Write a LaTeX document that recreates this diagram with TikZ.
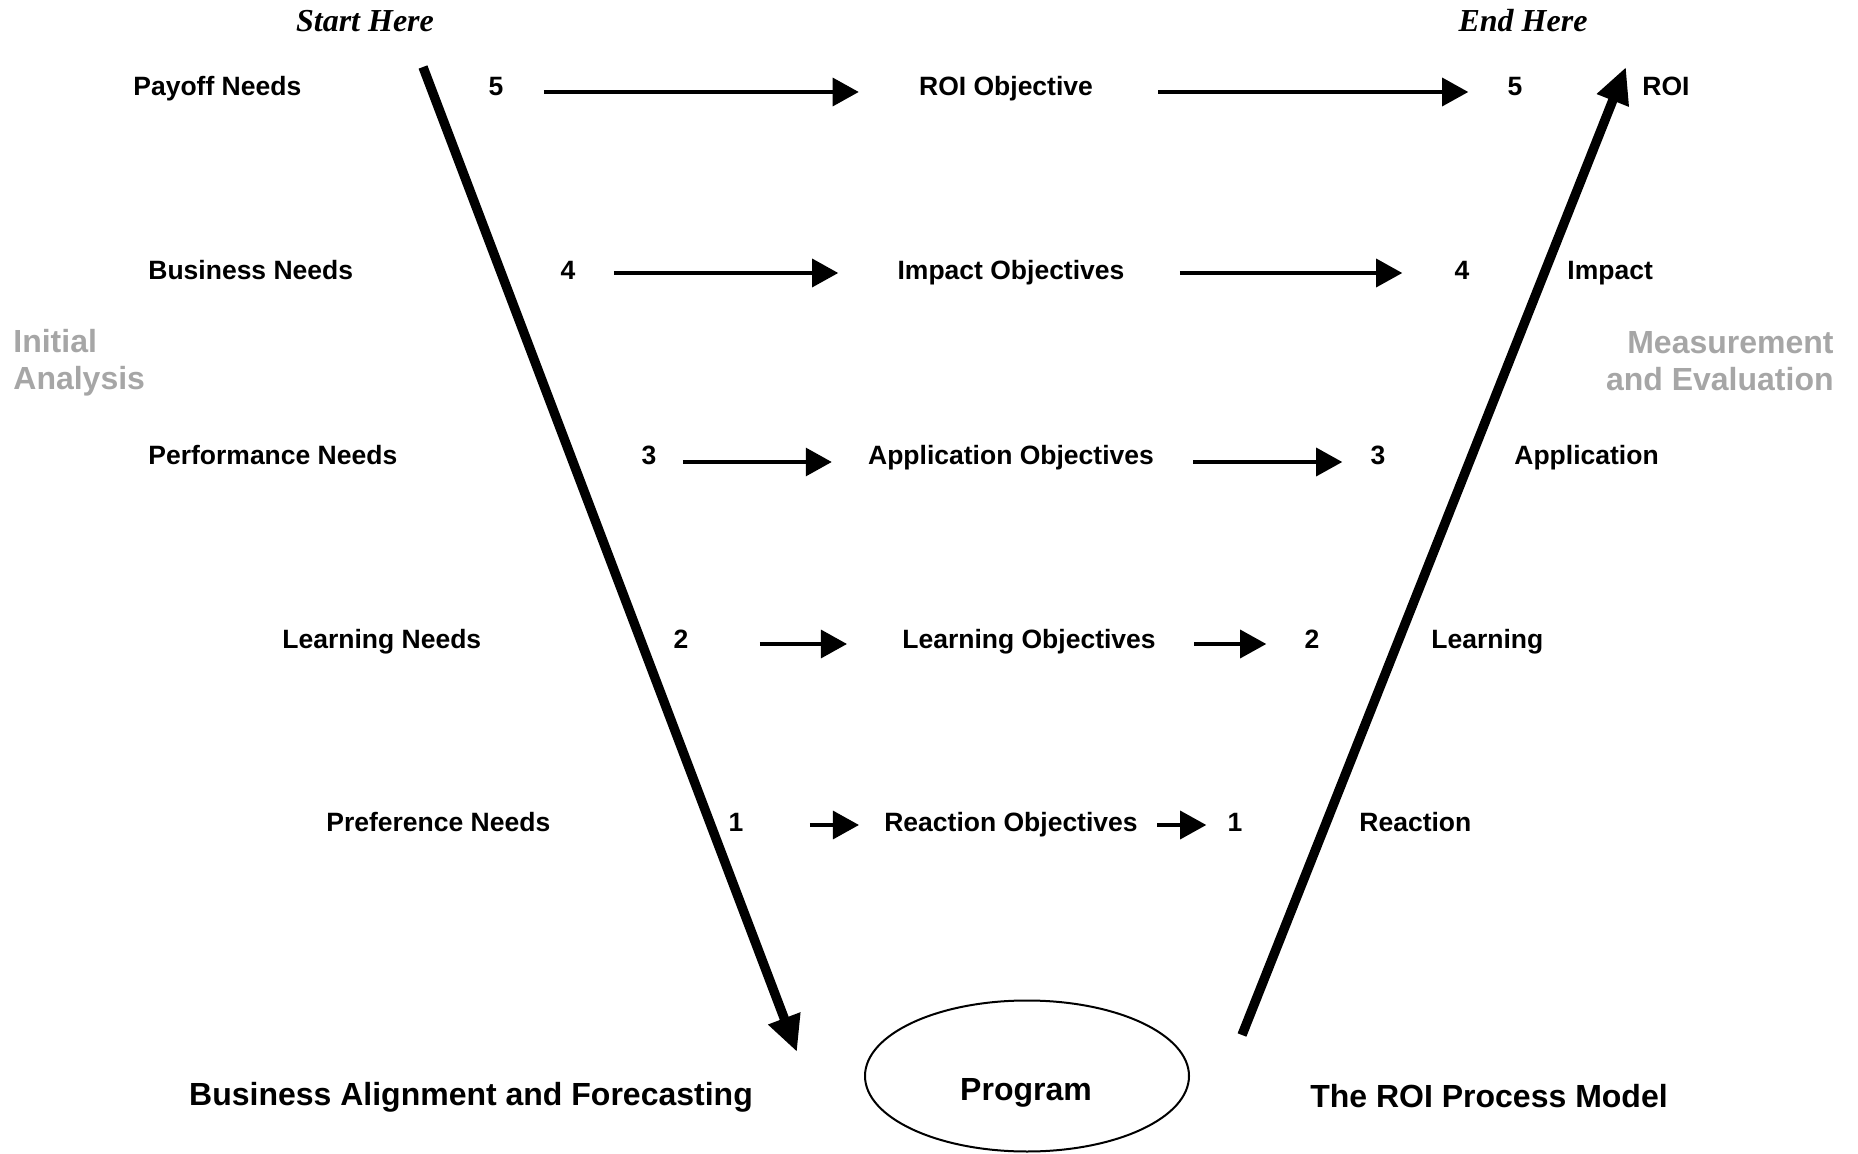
\documentclass[tikz,border=0pt]{standalone}
\usepackage{fontspec}
\setmainfont{Liberation Sans}
\newfontfamily\timesfont{Liberation Serif}
\usetikzlibrary{arrows.meta,shapes.geometric}
\definecolor{sidegray}{HTML}{A6A6A6}
\begin{document}
\begin{tikzpicture}[x=0.5pt,y=-0.5pt,
  tx/.style={inner sep=0pt,font=\fontsize{13.25}{15}\selectfont\bfseries,text height=9.5pt,text depth=2.8pt},
  bg/.style={inner sep=0pt,font=\fontsize{16}{18.5}\selectfont\bfseries},
  hd/.style={inner sep=0pt,font=\fontsize{16}{18.5}\selectfont\timesfont\bfseries\itshape},
  fl/.style={line width=1.6pt,-{Triangle[length=13pt,width=14pt]}},
  bfl/.style={line width=4.7pt,-{Triangle[length=18pt,width=16pt]}}]
\useasboundingbox (0,0) rectangle (1858,1154);
\node[hd] (start) at (365,21) {Start Here}; \node[hd] (end) at (1523,21) {End Here};
\node[bg,text=sidegray,align=left,anchor=west] (ia) at (13,363) {Initial\\Analysis};
\node[bg,text=sidegray,align=right,anchor=east] (me) at (1834,361) {Measurement\\and Evaluation};
% level 5
\node[tx,anchor=west] (N5) at (133,89) {Payoff Needs}; \node[tx] (L5) at (496,89) {5};
\node[tx] (O5) at (1006,89) {ROI Objective}; \node[tx] (R5) at (1515,89) {5};
\node[tx,anchor=west] (M5) at (1642,89) {ROI};
\draw[fl,transform canvas={yshift=-1.5pt},shorten <=20pt,shorten >=30pt] (L5) -- (O5);
\draw[fl,transform canvas={yshift=-1.5pt},shorten <=32.5pt,shorten >=19.5pt] (O5) -- (R5);
% level 4
\node[tx,anchor=west] (N4) at (148,273) {Business Needs}; \node[tx] (L4) at (568,273) {4};
\node[tx] (O4) at (1011,273) {Impact Objectives}; \node[tx] (R4) at (1462,273) {4};
\node[tx,anchor=west] (M4) at (1567,273) {Impact};
\draw[fl,shorten <=19pt,shorten >=29.5pt] (L4) -- (O4);
\draw[fl,shorten <=27.5pt,shorten >=26pt] (O4) -- (R4);
% level 3
\node[tx,anchor=west] (N3) at (148,458) {Performance Needs}; \node[tx] (L3) at (649,458) {3};
\node[tx] (O3) at (1011,458) {Application Objectives}; \node[tx] (R3) at (1378,458) {3};
\node[tx,anchor=west] (M3) at (1514,458) {Application};
\draw[fl,transform canvas={yshift=-2pt},shorten <=13pt,shorten >=18pt] (L3) -- (O3);
\draw[fl,transform canvas={yshift=-2pt},shorten <=19.5pt,shorten >=14pt] (O3) -- (R3);
% level 2
\node[tx,anchor=west] (N2) at (282,642) {Learning Needs}; \node[tx] (L2) at (681,642) {2};
\node[tx] (O2) at (1029,642) {Learning Objectives}; \node[tx] (R2) at (1312,642) {2};
\node[tx,anchor=west] (M2) at (1431,642) {Learning};
\draw[fl,transform canvas={yshift=-1pt},shorten <=35.5pt,shorten >=27.5pt] (L2) -- (O2);
\draw[fl,transform canvas={yshift=-1pt},shorten <=19pt,shorten >=19pt] (O2) -- (R2);
% level 1
\node[tx,anchor=west] (N1) at (326,825) {Preference Needs}; \node[tx] (L1) at (736,825) {1};
\node[tx] (O1) at (1011,825) {Reaction Objectives}; \node[tx] (R1) at (1235,825) {1};
\node[tx,anchor=west] (M1) at (1359,825) {Reaction};
\draw[fl,shorten <=33pt,shorten >=12.5pt] (L1) -- (O1);
\draw[fl,shorten <=9.5pt,shorten >=10.5pt] (O1) -- (R1);
% the V
\coordinate (top-l) at (423,67); \coordinate (low-l) at (797,1052);
\coordinate (low-r) at (1242,1035); \coordinate (top-r) at (1626,67);
\draw[bfl] (top-l) -- (low-l);
\draw[bfl] (low-r) -- (top-r);
\node[draw,ellipse,line width=1pt,minimum width=162pt,minimum height=75.5pt] (prog) at (1027,1076) {};
\node[bg] (progtxt) at (1026,1093) {Program};
\node[bg] (align) at (471,1097) {Business Alignment and Forecasting};
\node[bg] (model) at (1489,1096) {The ROI Process Model};
\end{tikzpicture}
\end{document}
